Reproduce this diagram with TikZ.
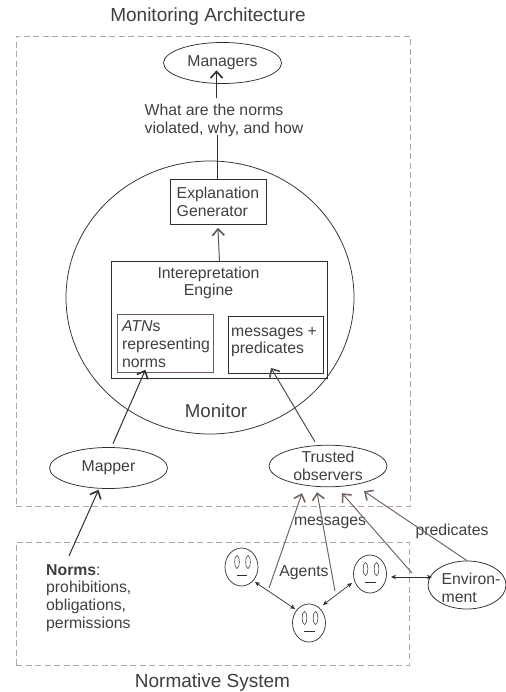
\documentclass[tikz,border=0pt]{standalone}
\usepackage{fontspec}
\setmainfont{Liberation Sans}
\usetikzlibrary{arrows.meta,shapes.geometric}
\definecolor{txt}{HTML}{3F3F3F}
\definecolor{ink}{HTML}{2E2E2E}
\definecolor{brownline}{HTML}{75655F}
\definecolor{dashc}{HTML}{AFA3A3}
\definecolor{innerbox}{HTML}{6E5A58}
\tikzset{
  every node/.style={text=txt,font=\fontsize{15.8}{17.8}\selectfont},
  dashbox/.style={draw=dashc,line width=0.8pt,dash pattern=on 6pt off 3.5pt},
  oval/.style={draw=ink,ellipse,line width=0.75pt,inner sep=0pt,minimum width=118pt,minimum height=41pt,align=center},
  boxed/.style={draw=ink,rectangle,line width=0.9pt,inner sep=0pt,anchor=north west},
  label/.style={inner sep=0pt,align=left},
  barb/.style={-{Straight Barb[length=6.5pt,width=12pt,line width=1.6pt]},line width=1pt,draw=ink},
  brownbarb/.style={-{Straight Barb[length=6.5pt,width=12pt,line width=1.6pt]},line width=1pt,draw=brownline},
  twoway/.style={{Stealth[length=5pt,width=4.5pt]}-{Stealth[length=5pt,width=4.5pt]},line width=0.7pt,draw=ink},
  facering/.style={draw=ink,ellipse,line width=0.7pt,inner sep=0pt,minimum width=33pt,minimum height=38pt},
  pics/agentface/.style={code={
    \draw[ink,line width=0.5pt] (-4.5,-5) ellipse (2.3 and 6.5);
    \draw[ink,line width=0.5pt] (6.5,-5) ellipse (2.3 and 6.5);
    \draw[ink,line width=0.7pt] (-5,8) -- (5.5,8);
  }}
}
\begin{document}
\begin{tikzpicture}[x=1pt,y=-1pt]
\useasboundingbox (0,0) rectangle (505,692);
% dashed frames
\node[dashbox,rectangle,inner sep=0pt,minimum width=394pt,minimum height=470pt,anchor=north west] (arch) at (16,36) {};
\node[dashbox,rectangle,inner sep=0pt,minimum width=393pt,minimum height=123pt,anchor=north west] (normsys) at (16,542) {};
% titles
\node[inner sep=0pt,font=\fontsize{19}{22}\selectfont] (title) at (208,17) {Monitoring Architecture};
\node[inner sep=0pt,font=\fontsize{19}{22}\selectfont] (title2) at (212.5,683) {Normative System};
% monitor
\node[draw=ink,ellipse,line width=0.75pt,inner sep=0pt,minimum width=288pt,minimum height=273pt] (monitor) at (210,297.5) {};
\node[inner sep=0pt,font=\fontsize{18.7}{22}\selectfont] (monlabel) at (216,411) {Monitor};
% top
\node[oval] (managers) at (222.5,63) {Managers};
\node[label] (question) at (224,120.5) {What are the norms\\violated, why, and how};
% boxes
\node[boxed,minimum width=96pt,minimum height=45pt] (expl) at (169.5,179) {};
\node[label] (expltext) at (218,202) {Explanation\\Generator};
\node[boxed,minimum width=216pt,minimum height=117pt] (engine) at (111,261) {};
\node[label,align=center] (enginetext) at (208.5,283) {Interepretation\\Engine};
\node[draw=innerbox,rectangle,line width=0.8pt,inner sep=0pt,anchor=north west,minimum width=96pt,minimum height=58pt] (atn) at (117,314) {};
\node[label] (atntext) at (166,344) {\textit{ATN}s\\representing\\norms};
\node[boxed,minimum width=95pt,minimum height=57pt] (msg) at (228,316) {};
\node[label] (msgtext) at (274,342) {messages +\\predicates};
% lower ovals
\node[oval] (mapper) at (108.5,468) {Mapper};
\node[oval] (trusted) at (328,466) {Trusted\\observers};
\node[draw=ink,ellipse,line width=0.75pt,inner sep=0pt,minimum width=78pt,minimum height=48pt] (env) at (467,585) {};
\node[label] (envtext) at (471,588) {Environ-\\ment};
% norms text
\node[label,anchor=north west] (normstext) at (46,564) {\textbf{Norms}:\\prohibitions,\\obligations,\\permissions};
% agents
\node[facering] (f1) at (241.5,567) {};
\node[facering] (f2) at (309,623) {};
\node[facering] (f3) at (370,574) {};
\pic at (241.5,567) {agentface};
\pic at (309,623) {agentface};
\pic at (370,574) {agentface};
\node[label] (agentslabel) at (304,573) {Agents};
\node[label] (msgslabel) at (330,523) {messages};
\node[label] (predlabel) at (452,531) {predicates};
% connectors
\draw[barb] ([xshift=-6pt,yshift=-14.5pt]managers.south) -- ([xshift=-6pt,yshift=13.5pt]managers.south);
\draw[draw=ink,line width=0.9pt] ([xshift=-1pt]expl.north) -- ([xshift=-1pt,yshift=44pt]expl.north);
\draw[barb,draw=ink!80] (engine.north) -- ([yshift=-3pt]expl.south);
\draw[barb] ([xshift=4.5pt,yshift=3.5pt]mapper.north) -- ([xshift=-20pt,yshift=3pt]atn.south);
\draw[barb] ([xshift=-39.5pt,yshift=-67pt]mapper.south) -- ([xshift=-10pt,yshift=-1pt]mapper.south);
\draw[barb,draw=ink!85] ([xshift=-13pt,yshift=3pt]trusted.north) -- ([xshift=-5pt,yshift=6pt]msg.south);
\draw[brownbarb] ([xshift=27.5pt,yshift=-21pt]f1.center) -- ([xshift=-26pt,yshift=-6pt]trusted.south);
\draw[brownbarb] ([xshift=26pt,yshift=32pt]f2.center) -- ([xshift=-11pt,yshift=-5pt]trusted.south);
\draw[brownbarb] ([xshift=-55pt,yshift=12pt]env.center) -- ([xshift=14pt,yshift=-6pt]trusted.south);
\draw[brownbarb] (env.north) -- ([xshift=36pt,yshift=-4pt]trusted.south);
\draw[twoway] ([xshift=13.5pt,yshift=-15pt]f1.center) -- ([xshift=-14pt,yshift=14pt]f2.center);
\draw[twoway] ([xshift=14pt,yshift=18pt]f2.center) -- ([xshift=-18pt,yshift=-9pt]f3.center);
\draw[twoway] ([xshift=21pt,yshift=-3pt]f3.center) -- ([xshift=-35pt,yshift=8pt]env.center);
\end{tikzpicture}
\end{document}
